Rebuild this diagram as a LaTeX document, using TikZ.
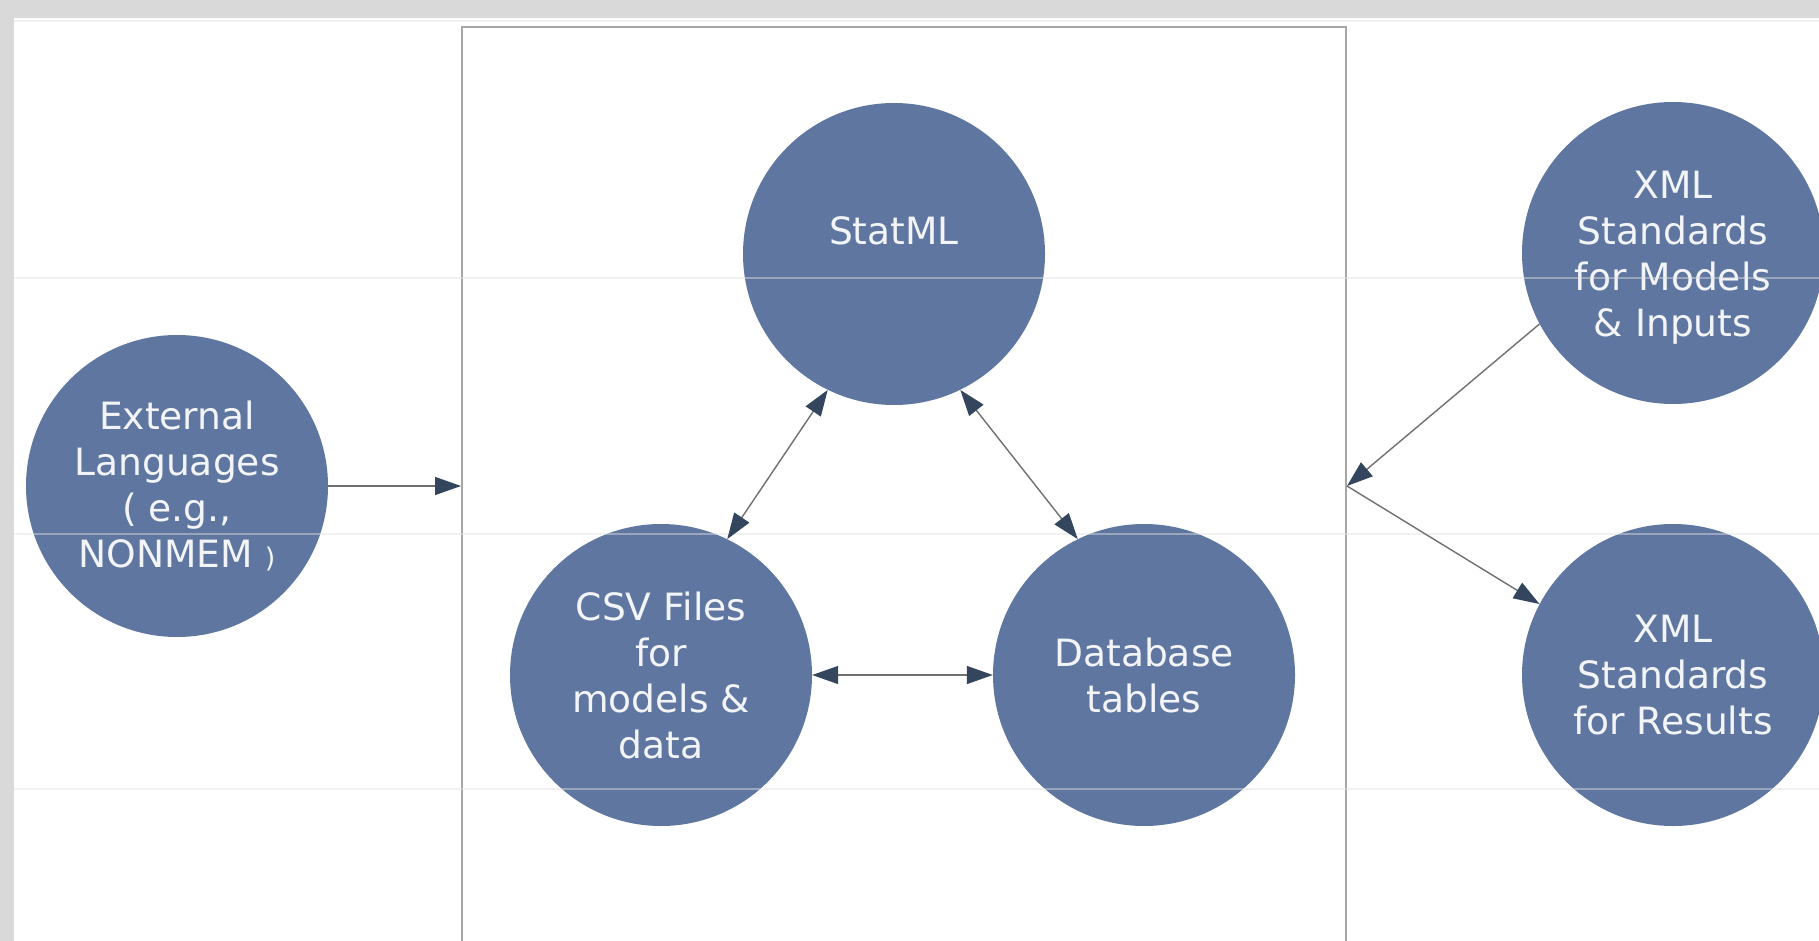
\documentclass[tikz,border=0pt]{standalone}
\usepackage{fontspec}
\setmainfont{DejaVu Sans}
\usetikzlibrary{arrows.meta}
\definecolor{bggrey}{HTML}{D9D9D9}
\definecolor{circfill}{HTML}{5F77A0}
\definecolor{tipdark}{HTML}{34465E}
\definecolor{linegrey}{HTML}{707070}
\definecolor{boxgrey}{HTML}{A6A6A6}
\definecolor{txt}{HTML}{F2F4F8}
\definecolor{faint}{HTML}{E0E0E0}
\begin{document}
\begin{tikzpicture}[x=1pt,y=-1pt,
  blob/.style={circle, fill=circfill, minimum size=302pt, inner sep=0pt, text=txt, align=center, font=\fontsize{37.6}{46}\selectfont},
  lbl/.style={text=txt, align=center, inner sep=0pt, font=\fontsize{37.6}{46}\selectfont},
  arr/.style={draw=linegrey, line width=1.4pt, -{Triangle[length=26pt,width=18pt,color=tipdark,fill=tipdark]}},
  dbl/.style={draw=linegrey, line width=1.4pt, {Triangle[length=26pt,width=18pt,color=tipdark,fill=tipdark]}-{Triangle[length=26pt,width=18pt,color=tipdark,fill=tipdark]}},
  faintline/.style={draw=faint, line width=1.5pt, opacity=0.45},
]
\useasboundingbox (0,0) rectangle (1819,941);
\clip (0,0) rectangle (1819,941);
\fill[bggrey] (0,0) rectangle (1819,941);
\fill[white] (14,18) rectangle (1819,941);

% container box
\node[draw=boxgrey, line width=2pt, minimum width=884pt, minimum height=960pt, inner sep=0pt] (box) at (904,507) {};

% circles
\node[blob] (ext) at (177,486) {External\\Languages\\( e.g.,\\NONMEM {\fontsize{27}{46}\selectfont )}};
\node[blob] (stat) at (894,254) {};
\node[lbl] (statlabel) at ([yshift=23pt]stat.center) {StatML};
\node[blob] (csv) at (661,675) {CSV Files\\for\\models \&\\data};
\node[blob] (db) at (1144,675) {Database\\tables};
\node[blob] (xmlin) at (1673,253) {};
\node[lbl] (xmlinlabel) at ([yshift=-5pt]xmlin.center) {XML\\Standards\\for Models\\\& Inputs};
\node[blob] (xmlres) at (1673,675) {XML\\Standards\\for Results};

% faint grid lines
\draw[faintline] (14,21) -- (1819,21);
\draw[faintline] (14,278) -- (1819,278);
\draw[faintline] (14,534) -- (1819,534);
\draw[faintline] (14,789) -- (1819,789);

% connectors
\coordinate (hub) at (ext -| box.east);
\draw[arr] (ext) -- (ext -| box.west);
\draw[arr] (xmlin.208) -- (hub);
\draw[arr] (hub) -- (xmlres.152);
\draw[dbl] (stat.244) -- (csv.64);
\draw[dbl] (stat.296) -- (db.116);
\draw[dbl] (csv) -- (db);
\end{tikzpicture}
\end{document}
